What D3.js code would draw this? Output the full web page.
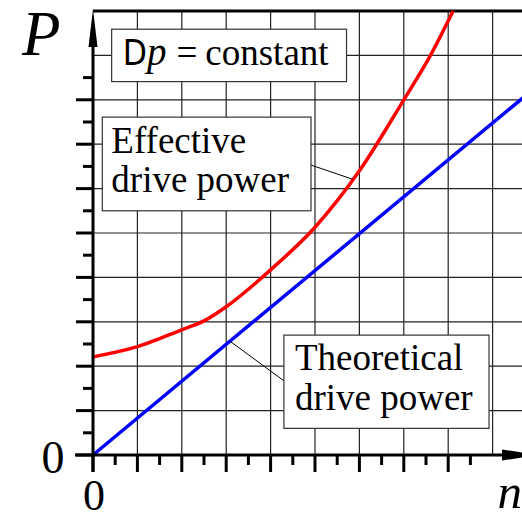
<!DOCTYPE html>
<html lang="en">
<head>
    <meta charset="UTF-8">
    <title>Drive power vs speed</title>
    <style>
        body {
            margin: 0;
            padding: 0;
            overflow: hidden;
            background: #fff;
        }
        text {
            font-family: 'Liberation Serif', 'Times New Roman', serif;
            fill: #000;
        }
        .grid line {
            stroke: #222;
            stroke-width: 1.2px;
        }
        .box {
            fill: #fff;
            stroke: #333;
            stroke-width: 1.2px;
        }
        .leader {
            stroke: #000;
            stroke-width: 1px;
        }
    </style>
</head>
<body>
    <svg id="chart" width="522" height="520"></svg>

    <script src="https://d3js.org/d3.v7.min.js"></script>
    <script>
        // Effective drive power (red), n and P in grid units
        const effN = [0, 1, 2, 2.5, 3, 4, 5, 6, 7, 7.6, 8.11];
        const effP = [2.21, 2.44, 2.82, 3.02, 3.34, 4.17, 5.13, 6.4, 8.0, 9.0, 10];

        // Theoretical drive power (blue) is a straight line through the origin
        const theoN = [0, 9.75];
        const theoP = [0, 8.1];

        const gridValues = [1, 2, 3, 4, 5, 6, 7, 8, 9];
        const majorTicks = [0, 1, 2, 3, 4, 5, 6, 7, 8];
        const minorTicks = [0.5, 1.5, 2.5, 3.5, 4.5, 5.5, 6.5, 7.5, 8.5];
        const xTickLabels = ["0"];
        const yTickLabels = ["0"];

        const svg = d3.select("#chart");

        const x = d3.scaleLinear().domain([0, 10]).range([93, 537]);
        const y = d3.scaleLinear().domain([0, 10]).range([455, 11]);
        const right = 522;

        // grid
        const grid = svg.append("g").attr("class", "grid");
        grid.selectAll(".v")
            .data(gridValues)
          .enter().append("line")
            .attr("x1", d => x(d)).attr("x2", d => x(d))
            .attr("y1", y(0)).attr("y2", y(10));
        grid.selectAll(".h")
            .data(gridValues)
          .enter().append("line")
            .attr("x1", x(0)).attr("x2", right)
            .attr("y1", d => y(d)).attr("y2", d => y(d));

        // top border
        svg.append("line")
            .attr("x1", x(0)).attr("x2", right)
            .attr("y1", y(10)).attr("y2", y(10))
            .attr("stroke", "#000").attr("stroke-width", 3);

        // curves
        const line = d3.line()
            .x(d => x(d[0]))
            .y(d => y(d[1]))
            .curve(d3.curveMonotoneX);

        svg.append("path")
            .datum(theoN.map((n, i) => [n, theoP[i]]))
            .attr("d", line)
            .attr("fill", "none")
            .attr("stroke", "#0000ff")
            .attr("stroke-width", 3.5);

        svg.append("path")
            .datum(effN.map((n, i) => [n, effP[i]]))
            .attr("d", line)
            .attr("fill", "none")
            .attr("stroke", "#ff0000")
            .attr("stroke-width", 3.5);

        // axes with ticks
        const axes = svg.append("g").attr("stroke", "#000");
        axes.append("line")
            .attr("x1", 75).attr("x2", 510)
            .attr("y1", y(0)).attr("y2", y(0))
            .attr("stroke-width", 3);
        axes.append("line")
            .attr("x1", x(0)).attr("x2", x(0))
            .attr("y1", 472).attr("y2", 40)
            .attr("stroke-width", 3);

        axes.selectAll(".xmaj")
            .data(majorTicks)
          .enter().append("line")
            .attr("x1", d => x(d)).attr("x2", d => x(d))
            .attr("y1", y(0)).attr("y2", y(0) + 17)
            .attr("stroke-width", 3);
        axes.selectAll(".xmin")
            .data(minorTicks)
          .enter().append("line")
            .attr("x1", d => x(d)).attr("x2", d => x(d))
            .attr("y1", y(0)).attr("y2", y(0) + 10)
            .attr("stroke-width", 3);
        axes.selectAll(".ymaj")
            .data(majorTicks)
          .enter().append("line")
            .attr("x1", x(0) - 17).attr("x2", x(0))
            .attr("y1", d => y(d)).attr("y2", d => y(d))
            .attr("stroke-width", 3);
        axes.selectAll(".ymin")
            .data(minorTicks)
          .enter().append("line")
            .attr("x1", x(0) - 10).attr("x2", x(0))
            .attr("y1", d => y(d)).attr("y2", d => y(d))
            .attr("stroke-width", 3);

        // arrow heads
        svg.append("path")
            .attr("d", `M${x(0)},9 L${x(0) + 4.5},47 L${x(0) - 4.5},47 Z`)
            .attr("fill", "#000");
        svg.append("path")
            .attr("d", `M540,${y(0)} L502,${y(0) - 5.5} L502,${y(0) + 5.5} Z`)
            .attr("fill", "#000");

        // axis labels
        svg.append("text")
            .attr("x", 22).attr("y", 55)
            .style("font-style", "italic")
            .style("font-size", "63px")
            .text("P");
        svg.append("text")
            .attr("x", 522).attr("y", 508)
            .attr("text-anchor", "end")
            .style("font-style", "italic")
            .style("font-size", "49px")
            .text("n");
        svg.append("text")
            .attr("x", 53).attr("y", 473)
            .attr("text-anchor", "middle")
            .style("font-size", "46px")
            .text(yTickLabels[0]);
        svg.append("text")
            .attr("x", x(0) + 1).attr("y", 510)
            .attr("text-anchor", "middle")
            .style("font-size", "44px")
            .text(xTickLabels[0]);

        // leader lines
        svg.append("line").attr("class", "leader")
            .attr("x1", x(4.91)).attr("y1", y(6.53))
            .attr("x2", x(5.85)).attr("y2", y(6.21));
        svg.append("line").attr("class", "leader")
            .attr("x1", x(3.09)).attr("y1", y(2.56))
            .attr("x2", x(4.30)).attr("y2", y(1.67));

        // annotation boxes
        function box(x0, x1, yTop, yBot) {
            svg.append("rect").attr("class", "box")
                .attr("x", x(x0)).attr("y", y(yTop))
                .attr("width", x(x1) - x(x0))
                .attr("height", y(yBot) - y(yTop));
        }

        box(0.42, 5.71, 9.59, 8.41);
        const dp = svg.append("text")
            .attr("x", x(0.42) + 11).attr("y", 65)
            .style("font-size", "37px");
        dp.append("tspan")
            .style("font-family", "'DejaVu Sans Condensed', 'DejaVu Sans', sans-serif")
            .style("font-stretch", "condensed")
            .style("font-size", "35px")
            .text("D");
        dp.append("tspan")
            .style("font-style", "italic")
            .style("font-size", "39px")
            .text("p");
        dp.append("tspan").attr("dx", 10).text("=");
        dp.append("tspan").attr("dx", 8).text("constant");

        box(0.21, 4.91, 7.61, 5.50);
        svg.append("text")
            .attr("x", x(0.21) + 9).attr("y", 153)
            .style("font-size", "37px")
            .text("Effective");
        svg.append("text")
            .attr("x", x(0.21) + 9).attr("y", 191.5)
            .style("font-size", "37px")
            .text("drive power");

        box(4.30, 8.92, 2.70, 0.60);
        svg.append("text")
            .attr("x", x(4.30) + 11).attr("y", 370)
            .style("font-size", "37px")
            .text("Theoretical");
        svg.append("text")
            .attr("x", x(4.30) + 11).attr("y", 410)
            .style("font-size", "37px")
            .text("drive power");
    </script>
</body>
</html>
